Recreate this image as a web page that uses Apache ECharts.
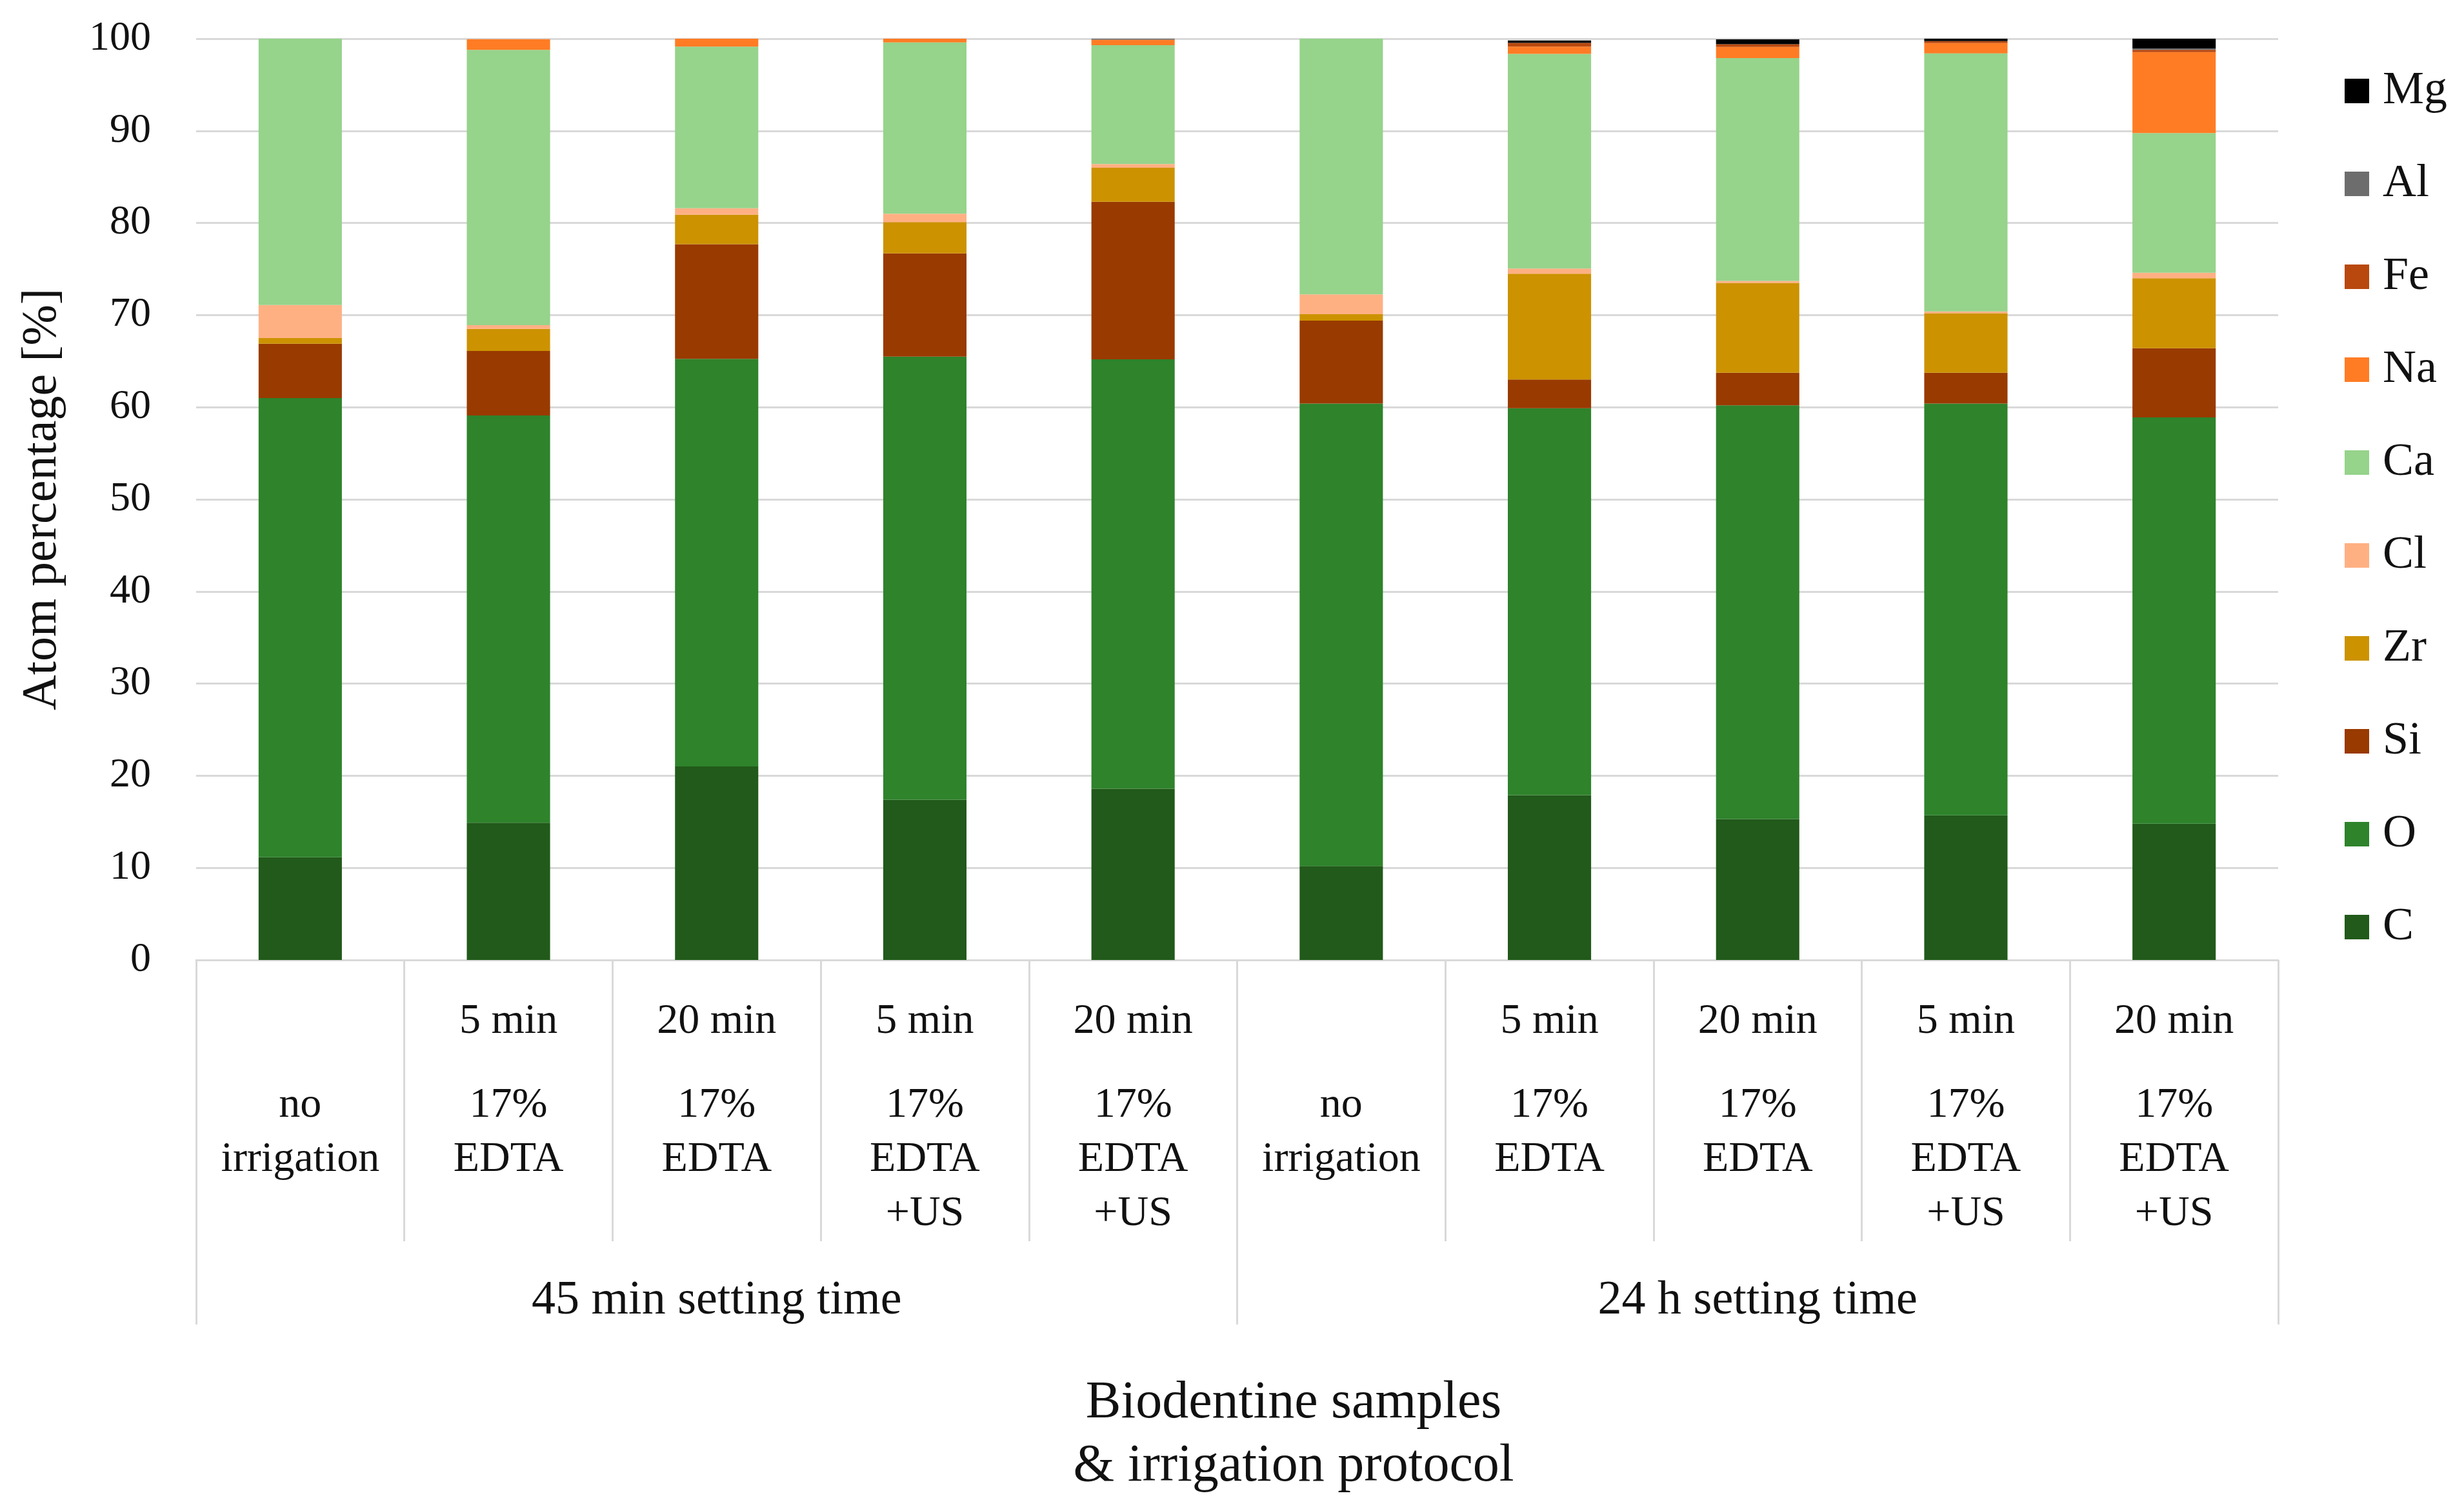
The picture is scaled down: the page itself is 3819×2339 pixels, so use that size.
<!DOCTYPE html>
<html>
<head>
<meta charset="utf-8">
<script src="https://cdn.jsdelivr.net/npm/echarts@6/dist/echarts.min.js"></script>
<style>
html, body { margin: 0; padding: 0; background: #ffffff; }
#chart { width: 3819px; height: 2339px; }
</style>
</head>
<body>
<div id="chart"></div>
<script>
// ---- Data ----
var durations = ['', '5 min', '20 min', '5 min', '20 min', '', '5 min', '20 min', '5 min', '20 min'];
var protocols = ['no\nirrigation', '17%\nEDTA', '17%\nEDTA', '17%\nEDTA\n+US', '17%\nEDTA\n+US',
                 'no\nirrigation', '17%\nEDTA', '17%\nEDTA', '17%\nEDTA\n+US', '17%\nEDTA\n+US'];
var categories = ['45 min / no irrigation', '45 min / 5 min EDTA', '45 min / 20 min EDTA',
                  '45 min / 5 min EDTA+US', '45 min / 20 min EDTA+US',
                  '24 h / no irrigation', '24 h / 5 min EDTA', '24 h / 20 min EDTA',
                  '24 h / 5 min EDTA+US', '24 h / 20 min EDTA+US'];
var groups = ['45 min setting time', '24 h setting time'];
var yTicks = [0, 10, 20, 30, 40, 50, 60, 70, 80, 90, 100];

var C  = [11.15, 14.9, 21.0, 17.4, 18.6, 10.2, 17.9, 15.3, 15.7, 14.8];
var O  = [49.85, 44.2, 44.25, 48.1, 46.6, 50.2, 42.0, 44.9, 44.7, 44.1];
var Si = [5.9, 7.0, 12.45, 11.2, 17.1, 9.0, 3.1, 3.55, 3.35, 7.5];
var Zr = [0.6, 2.4, 3.2, 3.4, 3.7, 0.7, 11.5, 9.75, 6.45, 7.6];
var Cl = [3.6, 0.4, 0.7, 0.9, 0.4, 2.15, 0.55, 0.2, 0.2, 0.6];
var Ca = [28.9, 29.9, 17.55, 18.6, 12.9, 27.75, 23.3, 24.2, 28.0, 15.15];
var Na = [0, 1.15, 0.85, 0.4, 0.6, 0, 0.8, 1.2, 1.13, 8.8];
var Fe = [0, 0, 0, 0, 0, 0, 0.4, 0.3, 0.2, 0.25];
var Al = [0, 0, 0, 0, 0.1, 0, 0, 0, 0, 0.15];
var Mg = [0, 0, 0, 0, 0, 0, 0.26, 0.53, 0.3, 1.05];

var elementNames = ['C', 'O', 'Si', 'Zr', 'Cl', 'Ca', 'Na', 'Fe', 'Al', 'Mg'];
var elementValues = [C, O, Si, Zr, Cl, Ca, Na, Fe, Al, Mg];
var elementColors = ['#215a1a', '#2e832b', '#993a00', '#cc9200', '#ffb083', '#96d38b', '#ff7c24', '#b9480e', '#6d6d6d', '#000000'];

var FONT = 'Liberation Serif';
var TXT = '#111111';
var GRIDC = '#d9d9d9';

var chart = echarts.init(document.getElementById('chart'), null, { renderer: 'canvas' });

var series = elementNames.map(function (n, i) {
  return {
    name: n,
    type: 'bar',
    stack: 'total',
    barWidth: '40%',
    xAxisIndex: 0,
    yAxisIndex: 0,
    itemStyle: { color: elementColors[i] },
    emphasis: { disabled: true },
    data: elementValues[i]
  };
});

var option = {
  backgroundColor: '#ffffff',
  animation: false,
  textStyle: { fontFamily: FONT, color: TXT },
  title: {
    text: 'Biodentine samples\n& irrigation protocol',
    left: 2000,
    top: 2121,
    textAlign: 'center',
    textStyle: { fontFamily: FONT, fontSize: 82, lineHeight: 98, fontWeight: 'normal', color: TXT }
  },
  legend: {
    orient: 'vertical',
    left: 3629,
    top: 100,
    icon: 'rect',
    itemWidth: 38,
    itemHeight: 38,
    itemGap: 72,
    data: elementNames.slice().reverse(),
    textStyle: { fontFamily: FONT, fontSize: 72, lineHeight: 72, color: TXT, padding: [0, 0, 0, 16] }
  },
  grid: {
    left: 304,
    right: 288,
    top: 60,
    bottom: 851,
    containLabel: false,
    outerBoundsMode: 'none'
  },
  xAxis: [
    {
      type: 'category',
      data: categories,
      position: 'bottom',
      boundaryGap: true,
      axisLine: { show: true, lineStyle: { color: GRIDC, width: 3 } },
      axisTick: { show: true, interval: 0, alignWithLabel: false, length: 436, lineStyle: { color: GRIDC, width: 3 } },
      axisLabel: {
        interval: 0,
        margin: 8,
        hideOverlap: false,
        formatter: function (value, index) {
          var d = durations[index] || ' ';
          var lines = protocols[index].split('\n');
          return '{d|' + d + '}\n' + lines.map(function (l) { return '{p|' + l + '}'; }).join('\n');
        },
        rich: {
          d: { fontFamily: FONT, fontSize: 66, lineHeight: 176, color: TXT },
          p: { fontFamily: FONT, fontSize: 66, lineHeight: 84, color: TXT }
        }
      },
      splitLine: { show: false }
    },
    {
      type: 'category',
      data: groups,
      position: 'bottom',
      boundaryGap: true,
      axisLine: { show: false },
      axisTick: { show: true, interval: 0, length: 565, lineStyle: { color: GRIDC, width: 3 } },
      axisLabel: {
        interval: 0,
        margin: 489,
        fontFamily: FONT,
        fontSize: 74,
        lineHeight: 80,
        color: TXT
      },
      splitLine: { show: false }
    }
  ],
  yAxis: {
    type: 'value',
    min: yTicks[0],
    max: yTicks[yTicks.length - 1],
    interval: 10,
    name: 'Atom percentage [%]',
    nameLocation: 'middle',
    nameGap: 200,
    nameTextStyle: { fontFamily: FONT, fontSize: 76, color: TXT },
    axisLine: { show: false },
    axisTick: { show: false },
    axisLabel: { margin: 70, fontFamily: FONT, fontSize: 64, color: TXT },
    splitLine: { show: true, lineStyle: { color: GRIDC, width: 3 } }
  },
  series: series
};

chart.setOption(option);
</script>
</body>
</html>
